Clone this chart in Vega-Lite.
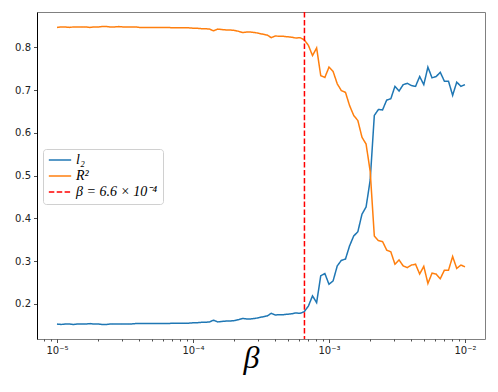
{
  "$schema": "https://vega.github.io/schema/vega-lite/v6.json",
  "width": 448,
  "height": 327,
  "autosize": {"type": "none"},
  "padding": {"left": 37, "top": 12, "right": 13, "bottom": 53},
  "background": "white",
  "config": {
    "view": {"stroke": "#808080", "strokeWidth": 1},
    "axis": {"grid": false, "labelFont": "DejaVu Sans", "labelFontSize": 10, "labelColor": "#222", "tickColor": "#222", "tickWidth": 0.8}
  },
  "datasets": {
    "curves": [
      {"b": 1e-5, "l2": 0.153, "R2": 0.847},
      {"b": 1.072e-5, "l2": 0.152, "R2": 0.848},
      {"b": 1.150e-5, "l2": 0.153, "R2": 0.848},
      {"b": 1.233e-5, "l2": 0.153, "R2": 0.847},
      {"b": 1.322e-5, "l2": 0.152, "R2": 0.848},
      {"b": 1.417e-5, "l2": 0.153, "R2": 0.848},
      {"b": 1.520e-5, "l2": 0.153, "R2": 0.848},
      {"b": 1.630e-5, "l2": 0.153, "R2": 0.848},
      {"b": 1.748e-5, "l2": 0.154, "R2": 0.847},
      {"b": 1.874e-5, "l2": 0.153, "R2": 0.848},
      {"b": 2.009e-5, "l2": 0.153, "R2": 0.848},
      {"b": 2.154e-5, "l2": 0.152, "R2": 0.849},
      {"b": 2.310e-5, "l2": 0.152, "R2": 0.849},
      {"b": 2.477e-5, "l2": 0.153, "R2": 0.848},
      {"b": 2.656e-5, "l2": 0.153, "R2": 0.848},
      {"b": 2.848e-5, "l2": 0.153, "R2": 0.849},
      {"b": 3.054e-5, "l2": 0.153, "R2": 0.848},
      {"b": 3.275e-5, "l2": 0.153, "R2": 0.848},
      {"b": 3.511e-5, "l2": 0.153, "R2": 0.848},
      {"b": 3.765e-5, "l2": 0.154, "R2": 0.848},
      {"b": 4.037e-5, "l2": 0.154, "R2": 0.847},
      {"b": 4.329e-5, "l2": 0.154, "R2": 0.847},
      {"b": 4.642e-5, "l2": 0.154, "R2": 0.847},
      {"b": 4.977e-5, "l2": 0.154, "R2": 0.847},
      {"b": 5.337e-5, "l2": 0.154, "R2": 0.847},
      {"b": 5.722e-5, "l2": 0.154, "R2": 0.847},
      {"b": 6.136e-5, "l2": 0.154, "R2": 0.847},
      {"b": 6.579e-5, "l2": 0.154, "R2": 0.847},
      {"b": 7.055e-5, "l2": 0.155, "R2": 0.846},
      {"b": 7.565e-5, "l2": 0.155, "R2": 0.846},
      {"b": 8.111e-5, "l2": 0.155, "R2": 0.846},
      {"b": 8.697e-5, "l2": 0.155, "R2": 0.846},
      {"b": 9.326e-5, "l2": 0.155, "R2": 0.846},
      {"b": 1e-4, "l2": 0.156, "R2": 0.845},
      {"b": 1.072e-4, "l2": 0.156, "R2": 0.845},
      {"b": 1.150e-4, "l2": 0.157, "R2": 0.844},
      {"b": 1.233e-4, "l2": 0.157, "R2": 0.844},
      {"b": 1.322e-4, "l2": 0.158, "R2": 0.843},
      {"b": 1.417e-4, "l2": 0.162, "R2": 0.839},
      {"b": 1.520e-4, "l2": 0.158, "R2": 0.843},
      {"b": 1.630e-4, "l2": 0.159, "R2": 0.842},
      {"b": 1.748e-4, "l2": 0.160, "R2": 0.841},
      {"b": 1.874e-4, "l2": 0.160, "R2": 0.841},
      {"b": 2.009e-4, "l2": 0.161, "R2": 0.840},
      {"b": 2.154e-4, "l2": 0.163, "R2": 0.838},
      {"b": 2.310e-4, "l2": 0.166, "R2": 0.835},
      {"b": 2.477e-4, "l2": 0.165, "R2": 0.836},
      {"b": 2.656e-4, "l2": 0.165, "R2": 0.836},
      {"b": 2.848e-4, "l2": 0.166, "R2": 0.835},
      {"b": 3.054e-4, "l2": 0.168, "R2": 0.833},
      {"b": 3.275e-4, "l2": 0.170, "R2": 0.831},
      {"b": 3.511e-4, "l2": 0.172, "R2": 0.829},
      {"b": 3.765e-4, "l2": 0.178, "R2": 0.823},
      {"b": 4.037e-4, "l2": 0.174, "R2": 0.827},
      {"b": 4.329e-4, "l2": 0.175, "R2": 0.826},
      {"b": 4.642e-4, "l2": 0.175, "R2": 0.826},
      {"b": 4.977e-4, "l2": 0.176, "R2": 0.825},
      {"b": 5.337e-4, "l2": 0.177, "R2": 0.824},
      {"b": 5.722e-4, "l2": 0.179, "R2": 0.822},
      {"b": 6.136e-4, "l2": 0.178, "R2": 0.823},
      {"b": 6.579e-4, "l2": 0.182, "R2": 0.818},
      {"b": 7.055e-4, "l2": 0.195, "R2": 0.805},
      {"b": 7.565e-4, "l2": 0.219, "R2": 0.781},
      {"b": 8.111e-4, "l2": 0.203, "R2": 0.799},
      {"b": 8.697e-4, "l2": 0.266, "R2": 0.734},
      {"b": 9.326e-4, "l2": 0.271, "R2": 0.730},
      {"b": 1e-3, "l2": 0.246, "R2": 0.754},
      {"b": 1.072e-3, "l2": 0.254, "R2": 0.744},
      {"b": 1.150e-3, "l2": 0.289, "R2": 0.715},
      {"b": 1.233e-3, "l2": 0.302, "R2": 0.699},
      {"b": 1.322e-3, "l2": 0.305, "R2": 0.695},
      {"b": 1.417e-3, "l2": 0.336, "R2": 0.664},
      {"b": 1.520e-3, "l2": 0.359, "R2": 0.641},
      {"b": 1.630e-3, "l2": 0.369, "R2": 0.629},
      {"b": 1.748e-3, "l2": 0.410, "R2": 0.590},
      {"b": 1.874e-3, "l2": 0.427, "R2": 0.574},
      {"b": 2.009e-3, "l2": 0.490, "R2": 0.510},
      {"b": 2.154e-3, "l2": 0.641, "R2": 0.359},
      {"b": 2.310e-3, "l2": 0.655, "R2": 0.348},
      {"b": 2.477e-3, "l2": 0.654, "R2": 0.346},
      {"b": 2.656e-3, "l2": 0.677, "R2": 0.326},
      {"b": 2.848e-3, "l2": 0.680, "R2": 0.322},
      {"b": 3.054e-3, "l2": 0.709, "R2": 0.293},
      {"b": 3.275e-3, "l2": 0.698, "R2": 0.303},
      {"b": 3.511e-3, "l2": 0.713, "R2": 0.289},
      {"b": 3.765e-3, "l2": 0.716, "R2": 0.285},
      {"b": 4.037e-3, "l2": 0.711, "R2": 0.291},
      {"b": 4.329e-3, "l2": 0.709, "R2": 0.293},
      {"b": 4.642e-3, "l2": 0.732, "R2": 0.270},
      {"b": 4.977e-3, "l2": 0.713, "R2": 0.288},
      {"b": 5.337e-3, "l2": 0.754, "R2": 0.248},
      {"b": 5.722e-3, "l2": 0.729, "R2": 0.272},
      {"b": 6.136e-3, "l2": 0.732, "R2": 0.270},
      {"b": 6.579e-3, "l2": 0.742, "R2": 0.259},
      {"b": 7.055e-3, "l2": 0.721, "R2": 0.279},
      {"b": 7.565e-3, "l2": 0.721, "R2": 0.279},
      {"b": 8.111e-3, "l2": 0.688, "R2": 0.311},
      {"b": 8.697e-3, "l2": 0.719, "R2": 0.283},
      {"b": 9.326e-3, "l2": 0.709, "R2": 0.291},
      {"b": 1e-2, "l2": 0.713, "R2": 0.287}
    ],
    "threshold": [{"b": 6.6e-4, "series": "beta"}]
  },
  "layer": [
    {
      "data": {"name": "curves"},
      "transform": [{"fold": ["l2", "R2"], "as": ["series", "value"]}],
      "mark": {"type": "line", "strokeWidth": 1.5, "clip": true},
      "encoding": {
        "x": {
          "field": "b", "type": "quantitative",
          "scale": {"type": "log", "domain": [7.13e-6, 0.01403], "nice": false},
          "axis": {
            "orient": "bottom",
            "values": [1e-5, 1e-4, 1e-3, 1e-2],
            "labelExpr": "datum.value < 5e-5 ? '10⁻⁵' : datum.value < 5e-4 ? '10⁻⁴' : datum.value < 5e-3 ? '10⁻³' : '10⁻²'",
            "tickSize": 3.5,
            "labelPadding": 3,
            "domain": false,
            "title": "β",
            "titleFont": "Liberation Serif",
            "titleFontStyle": "italic",
            "titleFontWeight": "normal",
            "titleFontSize": 32,
            "titleColor": "#000",
            "titlePadding": -13,
            "titleX": 214
          }
        },
        "y": {
          "field": "value", "type": "quantitative",
          "scale": {"domain": [0.118, 0.883], "nice": false, "zero": false},
          "axis": {
            "values": [0.2, 0.3, 0.4, 0.5, 0.6, 0.7, 0.8],
            "format": ".1f",
            "tickSize": 3.5,
            "labelPadding": 3,
            "domainColor": "#000",
            "domainWidth": 1,
            "title": null
          }
        },
        "color": {
          "field": "series", "type": "nominal",
          "scale": {"domain": ["l2", "R2", "beta"], "range": ["#1f77b4", "#ff7f0e", "#ff0000"]},
          "legend": {
            "title": null,
            "orient": "none",
            "legendX": 6,
            "legendY": 137,
            "symbolType": "stroke",
            "symbolSize": 500,
            "symbolStrokeWidth": 1.5,
            "clipHeight": 12,
            "rowPadding": 2,
            "padding": 5,
            "fillColor": "white",
            "strokeColor": "#d0d0d0",
            "cornerRadius": 3,
            "labelFont": "Liberation Serif",
            "labelFontStyle": "italic",
            "labelFontSize": 14,
            "labelColor": "#000",
            "labelExpr": "datum.label == 'l2' ? 'l₂' : datum.label == 'R2' ? 'R²' : 'β = 6.6 × 10⁻⁴'"
          }
        },
        "strokeDash": {
          "field": "series", "type": "nominal",
          "scale": {"domain": ["l2", "R2", "beta"], "range": [[1, 0], [1, 0], [5.5, 2.4]]},
          "legend": null
        }
      }
    },
    {
      "data": {"name": "threshold"},
      "mark": {"type": "rule", "strokeWidth": 1.5},
      "encoding": {
        "x": {
          "field": "b", "type": "quantitative",
          "axis": {
            "orient": "bottom",
            "values": [8e-6, 9e-6, 2e-5, 3e-5, 4e-5, 5e-5, 6e-5, 7e-5, 8e-5, 9e-5, 2e-4, 3e-4, 4e-4, 5e-4, 6e-4, 7e-4, 8e-4, 9e-4, 2e-3, 3e-3, 4e-3, 5e-3, 6e-3, 7e-3, 8e-3, 9e-3],
            "labels": false,
            "tickSize": 2,
            "domain": false,
            "title": null
          }
        },
        "color": {"field": "series", "type": "nominal"},
        "strokeDash": {"field": "series", "type": "nominal"}
      }
    }
  ],
  "resolve": {"axis": {"x": "independent"}}
}
